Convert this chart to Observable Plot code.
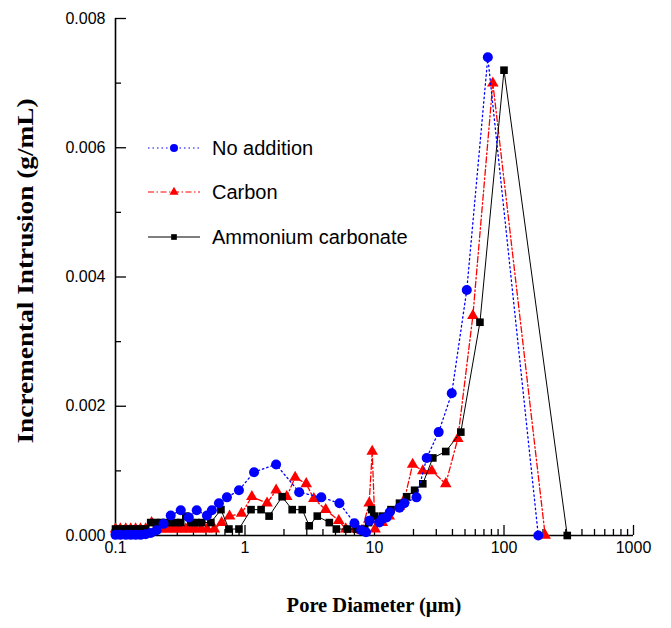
<!DOCTYPE html>
<html><head><meta charset="utf-8">
<script src="https://cdn.jsdelivr.net/npm/d3@7"></script>
<script src="https://cdn.jsdelivr.net/npm/@observablehq/plot@0.6"></script>
<style>
body{margin:0;background:#fff;}
#wrap{position:relative;width:671px;height:628px;}
#wrap svg{position:absolute;left:0;top:0;}
</style></head><body><div id="wrap"></div>
<script>
// ---- data ----
const noAdditionX = [0.1,0.109,0.12,0.131,0.143,0.156,0.171,0.187,0.208,0.235,0.267,0.319,0.368,0.424,0.508,0.555,0.629,0.725,0.898,1.175,1.738,2.62,3.88,5.36,7.0,7.9,8.6,9.14,10.9,11.5,12.4,13.1,15.6,17.0,21.1,25.3,31.3,39.5,51.6,75,184];
const noAdditionY = [0.00001,0.00001,0.00001,0.00001,0.00001,0.00001,0.00002,0.00004,0.00008,0.00018,0.00031,0.00039,0.00028,0.00039,0.00031,0.00039,0.0005,0.00059,0.0007,0.00098,0.0011,0.00067,0.00059,0.0005,0.00019,0.00008,0.00005,0.00023,0.0002,0.00026,0.00028,0.00036,0.00043,0.0005,0.00059,0.0012,0.0016,0.0022,0.0038,0.0074,0];

const carbonX = [0.1,0.109,0.12,0.131,0.143,0.156,0.171,0.19,0.204,0.223,0.244,0.267,0.292,0.319,0.349,0.381,0.417,0.46,0.51,0.58,0.66,0.76,0.94,1.13,1.48,1.74,2.1,2.44,2.97,3.4,4.2,5.3,6.0,7.0,8.0,9.1,9.6,10.1,11.5,13.0,15.6,17.0,19.7,23.6,27.7,35.5,44,57.5,82,208];
const carbonY = [0.0001,0.0001,0.0001,0.0001,0.0001,0.0001,0.0001,0.0002,0.0001,0.0001,0.0001,0.0001,0.0001,0.0001,0.0001,0.0001,0.0001,0.0001,0.0001,0.0001,0.0002,0.0003,0.00034,0.0006,0.0005,0.0007,0.0006,0.0009,0.0008,0.00057,0.0004,0.00023,0.0001,0.0001,0.00008,0.0005,0.0013,0.0001,0.0002,0.0003,0.00045,0.00055,0.0011,0.001,0.001,0.0008,0.0015,0.0034,0.007,0];

const ammoniumX = [0.1,0.109,0.12,0.131,0.143,0.156,0.171,0.187,0.204,0.223,0.244,0.267,0.292,0.319,0.349,0.381,0.417,0.464,0.545,0.652,0.751,0.898,1.113,1.331,1.535,1.936,2.314,2.767,3.134,3.615,4.479,5.074,6.176,7.254,8.4,9.0,9.5,10,11.5,13.4,15.6,17.7,20.4,23.6,28.2,35.5,46.4,65.2,100,308];
const ammoniumY = [0.0001,0.0001,0.0001,0.0001,0.0001,0.0001,0.0001,0.0002,0.0002,0.0002,0.0002,0.0002,0.0002,0.0002,0.0003,0.0002,0.0002,0.0002,0.0002,0.0004,0.0001,0.0001,0.0004,0.0004,0.0003,0.0006,0.0004,0.0004,0.00015,0.0003,0.0002,0.0001,0.0001,0.0001,0.0001,0.0002,0.0004,0.0003,0.0003,0.0004,0.0005,0.0006,0.0007,0.0008,0.0012,0.0013,0.0016,0.0033,0.0072,0];

const seriesNames = ["No addition", "Carbon", "Ammonium carbonate"];
const xTicks = [0.1, 1, 10, 100, 1000];
const xTickLabels = ["0.1", "1", "10", "100", "1000"];
const yTicks = [0, 0.002, 0.004, 0.006, 0.008];
const yTickLabels = ["0.000", "0.002", "0.004", "0.006", "0.008"];
const yMinorTicks = [0.001, 0.003, 0.005, 0.007];
const xTitle = "Pore Diameter (\u03bcm)";
const yTitle = "Incremental Intrusion (g/mL)";

// ---- styles ----
const styles = {
  "No addition": {color: "#0000ff", symbol: "circle", r: 5, dash: "1.5,3", lr: 4},
  "Carbon": {color: "#ff0000", symbol: "triangle", r: 4.3, dash: "6,2.5,1.5,2.5", lr: 3.4},
  "Ammonium carbonate": {color: "#000000", symbol: "square", r: 4.3, dash: null, lr: 3.2}
};

const xs = [noAdditionX, carbonX, ammoniumX];
const ys = [noAdditionY, carbonY, ammoniumY];
const rows = seriesNames.flatMap((s, k) => xs[k].map((x, i) => ({series: s, x, y: ys[k][i]})));
const xMinor = [0.1, 1, 10, 100].flatMap(d => [2,3,4,5,6,7,8,9].map(m => d * m));

const drawOrder = ["Carbon", "Ammonium carbonate", "No addition"];
const seriesMarks = drawOrder.flatMap(s => {
  const st = styles[s];
  const d = rows.filter(r => r.series === s);
  return [
    Plot.line(d, {x: "x", y: "y", stroke: st.color, strokeWidth: s === "Ammonium carbonate" ? 1 : 1.3, strokeDasharray: st.dash}),
    Plot.dot(d, {x: "x", y: "y", fill: st.color, symbol: st.symbol, r: st.r, stroke: "none"})
  ];
});

const chart = Plot.plot({
  width: 671, height: 628,
  marginLeft: 115, marginRight: 38, marginTop: 18, marginBottom: 93,
  x: {type: "log", domain: [0.1, 1000]},
  y: {domain: [0, 0.008]},
  style: {fontFamily: "'Liberation Sans', Arial, sans-serif", fontSize: "16px", color: "#000", background: "transparent"},
  marks: [
    Plot.axisX(xTicks, {tickSize: 0, tickPadding: 6, tickFormat: d => xTickLabels[xTicks.indexOf(d)], fontSize: 16, label: null}),
    Plot.axisX(xTicks, {tickSize: -10, tickFormat: () => "", label: null, strokeWidth: 1.3}),
    Plot.axisX(xMinor, {tickSize: -6, tickFormat: () => "", label: null, strokeWidth: 1.3}),
    Plot.axisY(yTicks, {tickSize: 0, tickPadding: 10, tickFormat: d => yTickLabels[yTicks.indexOf(d)], fontSize: 16, label: null}),
    Plot.axisY(yTicks, {tickSize: -11, tickFormat: () => "", label: null, strokeWidth: 1.3}),
    Plot.axisY(yMinorTicks, {tickSize: -6, tickFormat: () => "", label: null, strokeWidth: 1.3}),
    Plot.ruleY([0], {strokeWidth: 1.6}),
    Plot.ruleX([0.1], {strokeWidth: 1.6}),
    ...seriesMarks
  ]
});
document.getElementById("wrap").appendChild(chart);

// ---- legend and titles overlay ----
const ov = d3.select("#wrap").append("svg").attr("width", 671).attr("height", 628);
const legendRows = [148, 192, 237];
seriesNames.forEach((s, i) => {
  const st = styles[s];
  const y = legendRows[i];
  ov.append("line").attr("x1", 148).attr("x2", 200).attr("y1", y).attr("y2", y)
    .attr("stroke", st.color).attr("stroke-width", 1.2).attr("stroke-dasharray", st.dash);
  const sym = {circle: d3.symbolCircle, triangle: d3.symbolTriangle, square: d3.symbolSquare}[st.symbol];
  ov.append("path").attr("d", d3.symbol(sym, Math.PI * st.lr * st.lr)()).attr("transform", `translate(174,${y})`).attr("fill", st.color);
  ov.append("text").attr("x", 212).attr("y", y).attr("dy", "0.35em").text(s)
    .attr("font-family", "'Liberation Sans', Arial, sans-serif").attr("font-size", 20).attr("fill", "#000");
});
ov.append("text").attr("x", 374).attr("y", 612).attr("text-anchor", "middle").text(xTitle)
  .attr("font-family", "'Liberation Serif', 'Times New Roman', serif").attr("font-weight", "bold").attr("font-size", 20.5);
ov.append("text").attr("transform", "translate(33,271) rotate(-90)").attr("text-anchor", "middle").text(yTitle)
  .attr("font-family", "'Liberation Serif', 'Times New Roman', serif").attr("font-weight", "bold").attr("font-size", 23)
  .attr("textLength", 345).attr("lengthAdjust", "spacingAndGlyphs");
</script></body></html>
